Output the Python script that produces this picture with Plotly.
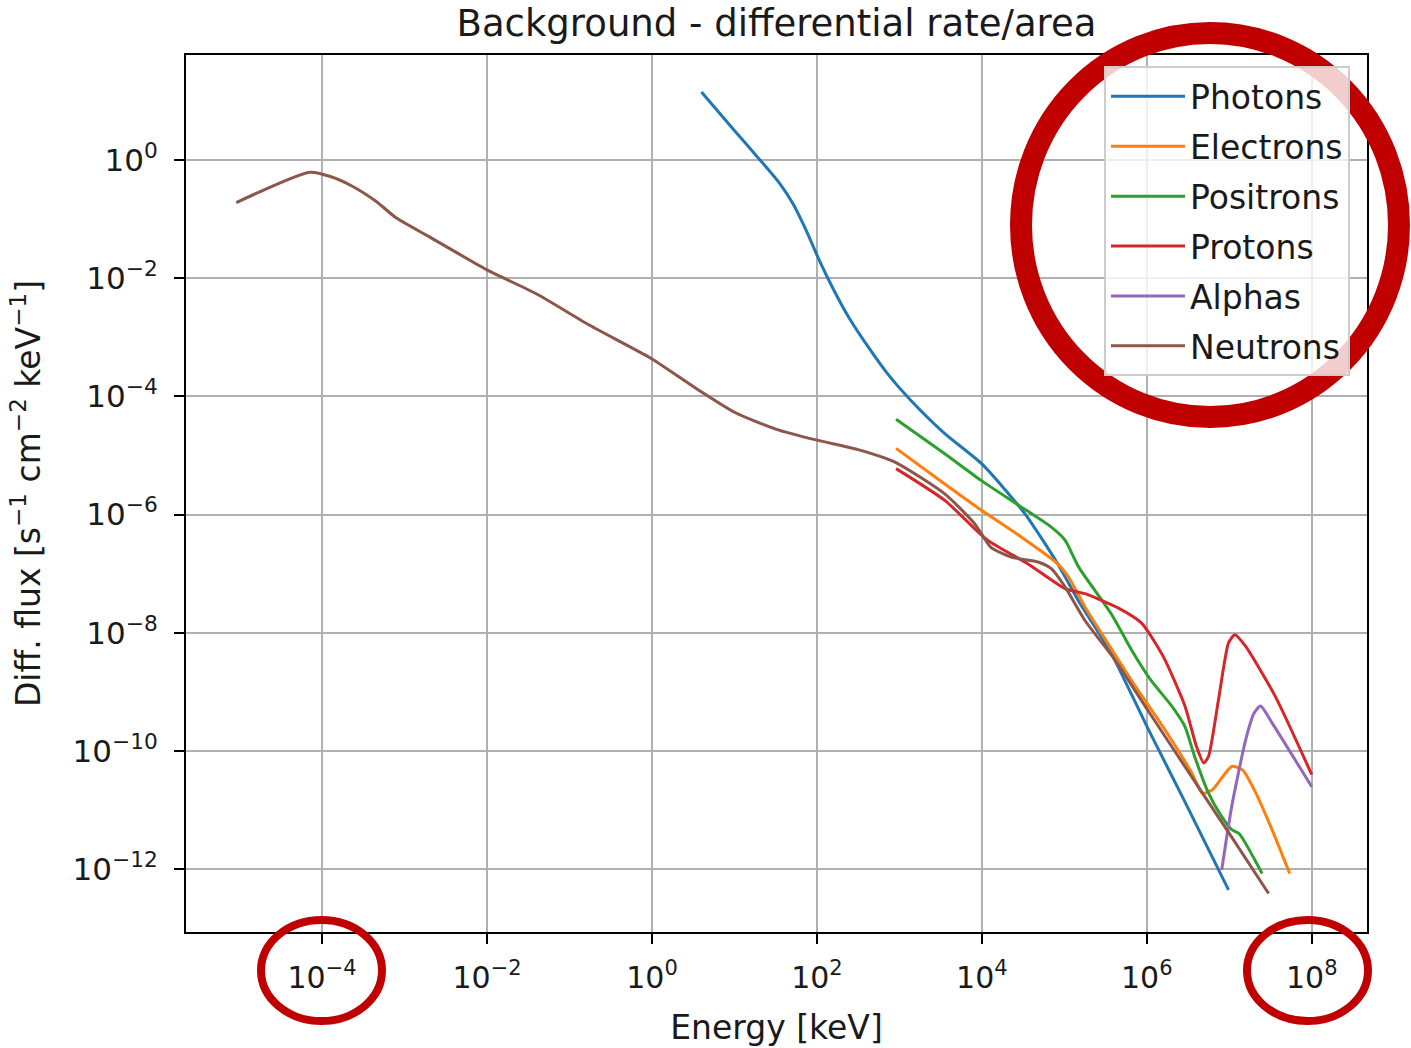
import plotly.graph_objects as go

# ---- data (energy in keV, differential flux) ----
photons_E = [3.98, 9.8, 20.4, 35.5, 51.3, 74.1, 107, 155, 245, 427, 741, 1380, 3550,
             1.0e4, 3.3e4, 8.3e4, 1.48e5, 3.7e5, 1.02e6, 2.9e6, 9.8e6]
photons_F = [14.1, 3.24, 1.0, 0.398, 0.182, 0.0646, 0.020, 6.9e-3, 2.14e-3, 6.6e-4, 2.29e-4,
             8.5e-5, 2.34e-5, 7.2e-6, 1.05e-6, 1.48e-7, 3.5e-8, 4.5e-9, 2.5e-10, 1.38e-11, 4.5e-13]

electrons_E = [912, 3550, 1.0e4, 3.0e4, 8.3e4, 1.12e5, 1.78e5, 2.8e5, 6.5e5, 1.66e6, 3.5e6,
               4.7e6, 6.2e6, 1.07e7, 1.45e7, 2.1e7, 3.3e7, 5.4e7]
electrons_F = [1.32e-5, 3.3e-6, 1.17e-6, 4.2e-7, 1.48e-7, 8.9e-8, 2.75e-8, 1.0e-8, 1.58e-9,
               2.3e-10, 4.3e-11, 1.95e-11, 2.2e-11, 5.5e-11, 4.8e-11, 1.95e-11, 4.7e-12, 8.5e-13]

positrons_E = [912, 3550, 9770, 3.0e4, 6.9e4, 1.02e5, 1.48e5, 3.7e5, 6.5e5, 1.12e6, 2.0e6,
               2.9e6, 3.8e6, 5.6e6, 8.1e6, 1.07e7, 1.32e7, 2.5e7]
positrons_F = [4.1e-5, 1.07e-5, 3.8e-6, 1.35e-6, 6.2e-7, 3.7e-7, 1.32e-7, 2.1e-8, 5.2e-9,
               1.58e-9, 5.8e-10, 2.6e-10, 8.1e-11, 1.95e-11, 7.8e-12, 4.7e-12, 4.0e-12, 8.5e-13]

protons_E = [912, 3550, 1.17e4, 3.6e4, 1.02e5, 1.78e5, 4.6e5, 8.7e5, 1.58e6, 2.9e6, 4.0e6,
             4.9e6, 5.6e6, 7.4e6, 9.8e6, 1.17e7, 1.58e7, 3.6e7, 1.0e8]
protons_F = [6.0e-6, 1.74e-6, 3.7e-7, 1.48e-7, 5.6e-8, 4.6e-8, 2.6e-8, 1.45e-8, 4.0e-9,
             5.8e-10, 1.2e-10, 6.3e-11, 8.1e-11, 7.4e-10, 6.8e-9, 9.3e-9, 5.9e-9, 8.5e-10, 4.0e-11]

alphas_E = [8.1e6, 1.07e7, 1.58e7, 2.0e7, 2.4e7, 3.3e7, 1.0e8]
alphas_F = [9.8e-13, 1.15e-11, 1.55e-10, 4.4e-10, 5.8e-10, 3.0e-10, 2.5e-11]

neutrons_E = [9.1e-6, 7.1e-5, 1.26e-4, 2.24e-4, 4.5e-4, 7.9e-4, 2.0e-3, 0.01, 0.04, 0.178,
              1.0, 3.55, 10, 31.6, 100, 316, 871, 3550, 8130, 1.29e4, 2.3e4, 4.8e4, 6.9e4,
              1.02e5, 1.78e5, 4.1e5, 1.02e6, 4.2e6, 1.07e7, 3.0e7]
neutrons_F = [0.19, 0.62, 0.525, 0.37, 0.2, 0.105, 0.05, 0.0138, 5.4e-3, 1.58e-3,
              4.3e-4, 1.32e-4, 5.4e-5, 2.8e-5, 1.82e-5, 1.26e-5, 7.8e-6, 2.24e-6, 7.1e-7, 2.8e-7,
              1.9e-7, 1.58e-7, 1.23e-7, 6.0e-8, 1.62e-8, 3.5e-9, 5.0e-10, 2.5e-11, 3.5e-12, 3.9e-13]

series_names = ["Photons", "Electrons", "Positrons", "Protons", "Alphas", "Neutrons"]
series_colors = ["#1f77b4", "#ff7f0e", "#2ca02c", "#d62728", "#9467bd", "#8c564b"]

x_tickvals = [1e-4, 1e-2, 1e0, 1e2, 1e4, 1e6, 1e8]
x_ticktext = ["10<sup>\u22124</sup>", "10<sup>\u22122</sup>", "10<sup>0</sup>", "10<sup>2</sup>",
              "10<sup>4</sup>", "10<sup>6</sup>", "10<sup>8</sup>"]
y_tickvals = [1e0, 1e-2, 1e-4, 1e-6, 1e-8, 1e-10, 1e-12]
y_ticktext = ["10<sup>0</sup>", "10<sup>\u22122</sup>", "10<sup>\u22124</sup>", "10<sup>\u22126</sup>",
              "10<sup>\u22128</sup>", "10<sup>\u221210</sup>", "10<sup>\u221212</sup>"]

data = [
    (photons_E, photons_F),
    (electrons_E, electrons_F),
    (positrons_E, positrons_F),
    (protons_E, protons_F),
    (alphas_E, alphas_F),
    (neutrons_E, neutrons_F),
]

FONT = "DejaVu Sans"
TXT = "#1a1a1a"

fig = go.Figure()
for (xs, ys), name, col in zip(data, series_names, series_colors):
    fig.add_trace(go.Scatter(
        x=xs, y=ys, mode="lines", name=name, legendgroup=name,
        line=dict(color=col, width=3, shape="spline", smoothing=0.6),
    ))

axis_common = dict(
    type="log",
    showgrid=True, gridcolor="#b0b0b0", gridwidth=2,
    showline=True, linecolor="black", linewidth=2, mirror=True,
    ticks="outside", ticklen=10, tickwidth=2, tickcolor="black",
    zeroline=False, automargin=False,
)

fig.update_xaxes(
    **axis_common,
    range=[-5.65, 8.67],
    tickmode="array", tickvals=x_tickvals, ticktext=x_ticktext,
    tickfont=dict(family=FONT, size=30, color=TXT),
    ticklabelstandoff=8,
    title=dict(text="Energy [keV]", font=dict(family=FONT, size=33, color=TXT), standoff=22),
)
fig.update_yaxes(
    **axis_common,
    range=[-13.06, 1.775],
    tickmode="array", tickvals=y_tickvals, ticktext=y_ticktext,
    tickfont=dict(family=FONT, size=31, color=TXT),
    ticklabelstandoff=10,
    title=dict(text="Diff. flux [s<sup>\u22121</sup> cm<sup>\u22122</sup> keV<sup>\u22121</sup>]",
               font=dict(family=FONT, size=33, color=TXT), standoff=22),
)

# red highlight circles (annotation marks on the reference)
def px_to_paper_x(px):
    return (px - 186) / 1181.0

def px_to_paper_y(py):
    return (932 - py) / 877.0

circles = [
    (1021, 33, 1399, 417, 22),
    (261, 920, 382, 1021, 8),
    (1247, 920, 1368, 1021, 8),
]
for x0, y0, x1, y1, w in circles:
    fig.add_shape(type="circle", xref="paper", yref="paper",
                  x0=px_to_paper_x(x0), x1=px_to_paper_x(x1),
                  y0=px_to_paper_y(y1), y1=px_to_paper_y(y0),
                  line=dict(color="#c00000", width=w), layer="above")

fig.update_layout(
    width=1411, height=1048,
    margin=dict(l=186, r=44, t=55, b=116, autoexpand=False),
    paper_bgcolor="white", plot_bgcolor="white",
    title=dict(text="Background - differential rate/area",
               font=dict(family=FONT, size=37, color=TXT),
               x=0.5, xref="paper", xanchor="center",
               y=1 - 23 / 1048, yref="container", yanchor="middle"),
    legend=dict(
        x=0.9856, xanchor="right", y=0.987, yanchor="top",
        font=dict(family=FONT, size=33, color=TXT),
        bgcolor="rgba(255,255,255,0.8)", bordercolor="#cccccc", borderwidth=2,
        tracegroupgap=4, itemwidth=74,
    ),
    showlegend=True,
)

fig.write_html("out.html")
